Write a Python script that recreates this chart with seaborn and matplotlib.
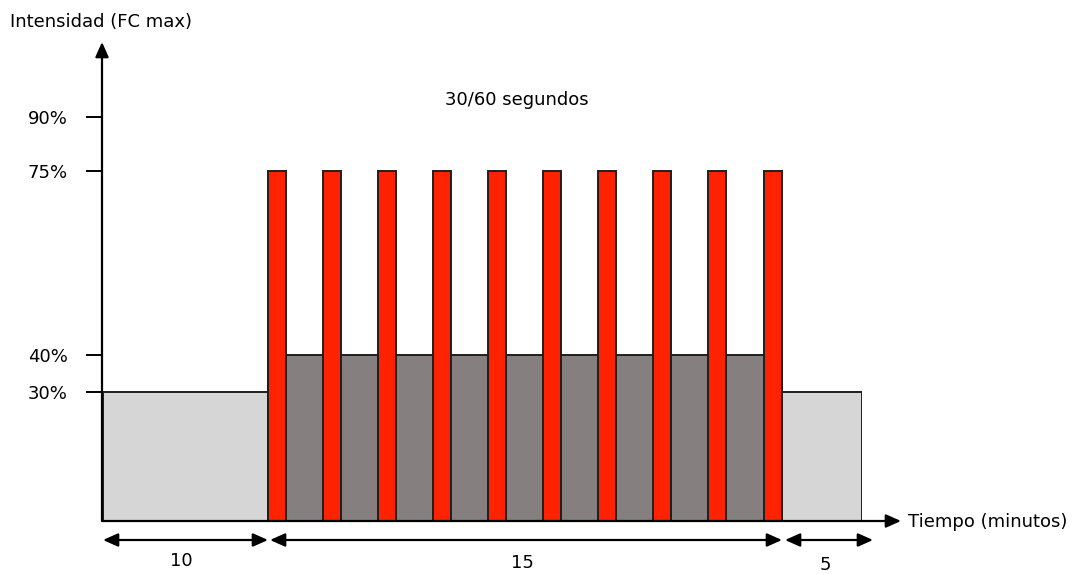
import numpy as np
import matplotlib
matplotlib.use('Agg')
import matplotlib.pyplot as plt
import seaborn as sns

# phases of the session (minutes, % of max heart rate)
phase_names = ['Calentamiento', 'Intervalos', 'Vuelta a la calma']
phase_start = [0, 10, 25]
phase_minutes = [10, 15, 5]
phase_intensity = [30, 40, 30]

# 30 s bursts at 75% (start minute of each burst)
burst_start = [10.0, 11.6, 13.21, 14.81, 16.42, 18.02, 19.63, 21.23, 22.84, 24.47]
burst_width = 0.53
burst_intensity = 75

ytick_values = [30, 40, 75, 90]
ytick_labels = ['30%', '40%', '75%', '90%']

# the drawing is schematic, so both axes are piecewise (not to scale)
x_knots = [0, 10, 25, 30]
x_px = [0, 165, 679, 759]
y_knots = [0, 30, 40, 75, 90]
y_px = [0, 129, 166, 350, 404]


def fwd_x(v):
    return np.interp(v, x_knots, x_px)


def inv_x(v):
    return np.interp(v, x_px, x_knots)


def fwd_y(v):
    return np.interp(v, y_knots, y_px)


def inv_y(v):
    return np.interp(v, y_px, y_knots)


sns.set_theme(style='white')
plt.rcParams['font.family'] = ['DejaVu Sans']
plt.rcParams['text.color'] = 'black'

W, H = 1074, 574
fig = plt.figure(figsize=(W / 100, H / 100), dpi=100)
ax = fig.add_axes([103 / W, 53 / H, (862 - 103) / W, (521 - 117) / H])
ax.set_xscale('function', functions=(fwd_x, inv_x))
ax.set_yscale('function', functions=(fwd_y, inv_y))

edge = '#1e1e1e'
fills = ['#d6d6d6', '#857f7f', '#d6d6d6']
ax.bar(phase_start, phase_intensity, width=phase_minutes, align='edge',
       color=fills, edgecolor=edge, linewidth=1.4, zorder=2)
ax.bar(burst_start, [burst_intensity] * len(burst_start), width=burst_width,
       align='edge', color='#ff2200', edgecolor=edge, linewidth=1.4, zorder=3)

ax.set_xlim(0, 30)
ax.set_ylim(0, 90)
ax.set_xticks([])
ax.set_yticks(ytick_values)
ax.set_yticklabels(ytick_labels)
ax.tick_params(axis='y', left=True, direction='out', length=12.5, width=1.4,
               color='black', pad=13, labelsize=13, labelcolor='black')
sns.despine(ax=ax, left=True, bottom=True)
ax.patch.set_alpha(0)


def arrow(x0, y0, x1, y1, style='-|>'):
    ax.annotate('', xy=(x1, y1), xytext=(x0, y0),
                xycoords='figure pixels', textcoords='figure pixels',
                arrowprops=dict(arrowstyle=style + ',head_length=0.9,head_width=0.4',
                                lw=1.6, color='black', shrinkA=0, shrinkB=0,
                                mutation_scale=10),
                annotation_clip=False)


# axes with arrowheads
arrow(102, 53, 102, 532)
arrow(102, 53, 901, 53)

# duration brackets under the time axis
bracket_px = [(103, 268), (270, 782), (785, 873)]
label_y = [13, 11, 9]
for (a, b), n, ly in zip(bracket_px, phase_minutes, label_y):
    arrow(a, 34, b, 34, style='<|-|>')
    fig.text(((a + b) / 2 - 4) / W, ly / H, str(n), ha='center', va='center',
             fontsize=13)

fig.text(10 / W, 552 / H, 'Intensidad (FC max)', ha='left', va='center', fontsize=13)
fig.text(908 / W, 52 / H, 'Tiempo (minutos)', ha='left', va='center', fontsize=13)
fig.text(517 / W, 474 / H, '30/60 segundos', ha='center', va='center', fontsize=13)

fig.savefig('out.png', dpi=100)
